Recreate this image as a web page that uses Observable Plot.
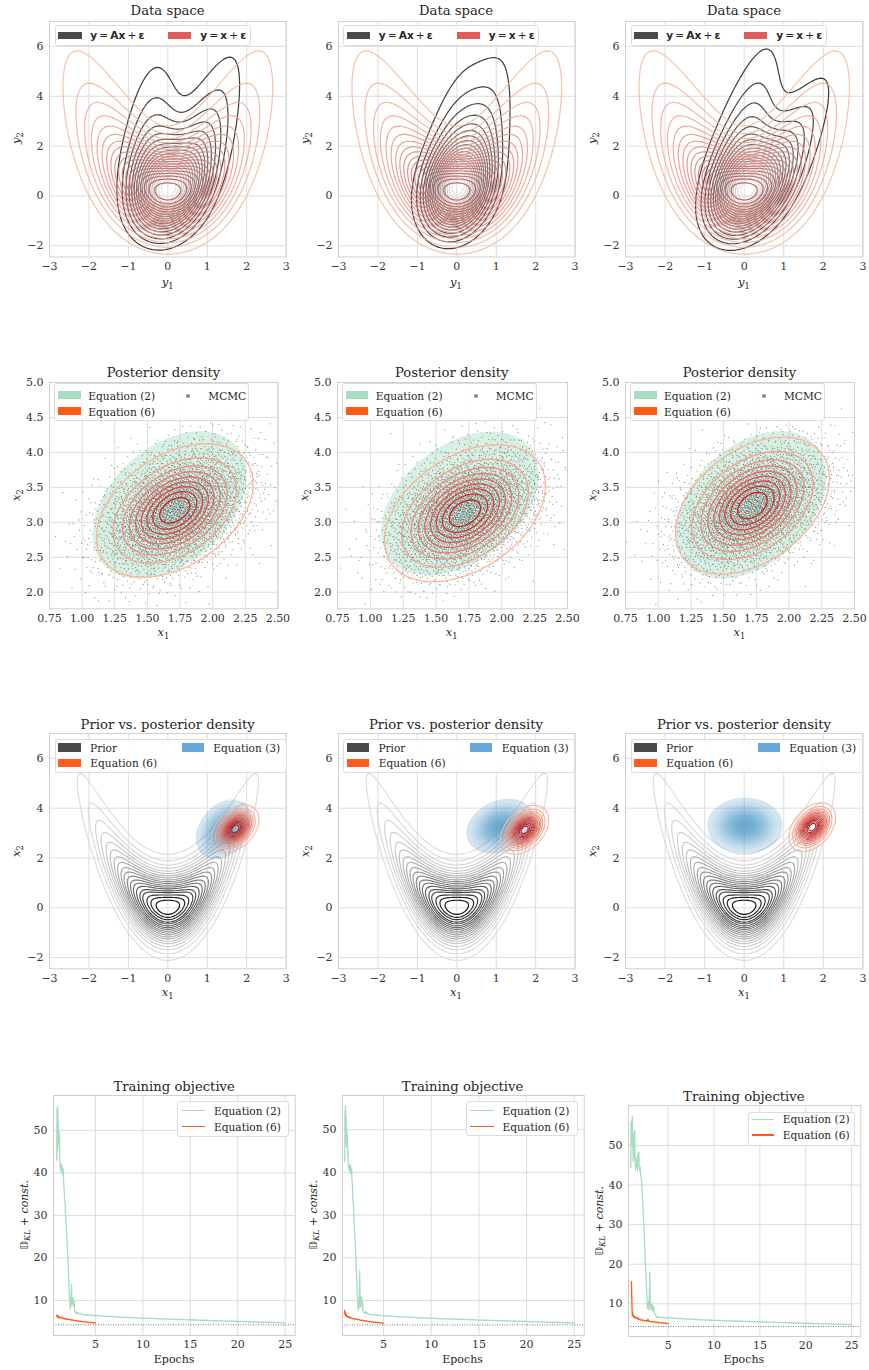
<!DOCTYPE html>
<html>
<head>
<meta charset="utf-8">
<script src="https://cdn.jsdelivr.net/npm/d3@7"></script>
<script src="https://cdn.jsdelivr.net/npm/@observablehq/plot@0.6"></script>
<style>
  html,body{margin:0;padding:0;background:#fff;}
  #page{position:relative;width:869px;height:1370px;overflow:hidden;font-family:"DejaVu Serif",serif;color:#262626;}
  .t{position:absolute;line-height:1;white-space:nowrap;}
  .box{position:absolute;border:1px solid #dcdcdc;border-radius:3px;background:rgba(255,255,255,0.85);box-sizing:border-box;}
  .sw{position:absolute;}
  sub{font-size:0.72em;vertical-align:-0.3em;line-height:0;}
</style>
</head>
<body>
<div id="page"></div>
<script>
// ======================= DATA =======================
const spaceTicks = [-3, -2, -1, 0, 1, 2, 3];
const spaceYTicks = [-2, 0, 2, 4, 6];
const postXTicks = [0.75, 1.0, 1.25, 1.5, 1.75, 2.0, 2.25, 2.5];
const postYTicks = [2.0, 2.5, 3.0, 3.5, 4.0, 4.5, 5.0];
const epochTicks = [5, 10, 15, 20, 25];
const objTicks = [10, 20, 30, 40, 50];

// banana prior: x1 ~ N(0, sd1), x2 | x1 ~ N(x1^2, sd2)   [sd1, sd2]
const priorModel = [0.95, 0.85];     // prior KDE (row 3)
const dataPrior = [1.04, 0.80];      // prior samples behind the data-space KDEs (row 1)
const priorKdeSd = 0.13;
const redNoiseSd = 0.5;              // y = x + eps (noise + KDE smoothing)
const blackNoiseSd = 0.42;           // y = Ax + eps
// forward operators A = [a11, a12, a21, a22] of the three problems
const forwardA = [[0.41, 0.12, 0.12, 0.96], [0.20, 0.12, 0.20, 0.96], [0.30, 0.23, -0.30, 0.96]];
// Gaussian fits [mu1, mu2, sd1, sd2, rho]
const eq6Fit = [[1.71, 3.17, 0.245, 0.39, 0.40], [1.72, 3.13, 0.25, 0.40, 0.40], [1.72, 3.24, 0.24, 0.40, 0.40]];
const eq2Fit = [[1.67, 3.25, 0.24, 0.43, 0.40], [1.68, 3.27, 0.245, 0.42, 0.40], [1.71, 3.25, 0.235, 0.43, 0.38]];
const eq3Fit = [[1.42, 3.15, 0.29, 0.49, 0.30], [1.10, 3.28, 0.35, 0.45, 0.25], [0.02, 3.30, 0.39, 0.46, 0.0]];
const mcmcFit = [[1.72, 3.17, 0.28, 0.44, 0.36], [1.72, 3.14, 0.28, 0.44, 0.38], [1.72, 3.22, 0.28, 0.44, 0.38]];
const mcmcCount = 3800;
const klOptimum = 4.27;

// training objective, Equation (2): early epochs [epoch, value]
const eq2EarlyA = [[0.92,43],[0.95,55],[0.98,53],[1.0,45],[1.03,55.5],[1.06,48],[1.09,52],[1.12,47],[1.15,50],[1.18,46],[1.21,49],[1.25,43],[1.29,41],[1.33,42],[1.37,40.5],[1.41,41.8],[1.45,40],[1.5,41.5],[1.55,39.5],[1.6,41],[1.65,38],[1.7,36],[1.75,33.5],[1.8,33],[1.85,30],[1.9,28],[1.95,26],[2.0,24],[2.05,22],[2.1,19.5],[2.15,17],[2.2,14],[2.25,11],[2.3,9],[2.33,8],[2.36,10.5],[2.4,8.5],[2.45,12],[2.48,13.8],[2.52,9],[2.56,10.8],[2.6,9.2],[2.65,10.4],[2.7,8.6],[2.75,10],[2.8,7.6],[2.88,7.2],[2.95,6.9],[3.0,7.3],[3.1,7.0],[3.2,7.1],[3.3,6.8],[3.4,7.0],[3.5,6.7]];
const eq2EarlyB = [[0.93,42.5],[0.96,54.5],[0.99,50],[1.02,55.5],[1.05,47],[1.08,53],[1.11,46],[1.14,50.5],[1.17,47.5],[1.2,49],[1.24,44],[1.28,45],[1.32,41],[1.36,42],[1.4,40.5],[1.45,41.5],[1.5,40],[1.55,41.6],[1.6,39.5],[1.65,40.8],[1.7,38],[1.75,36.5],[1.8,33],[1.85,32.5],[1.9,29],[1.95,27],[2.0,25],[2.05,22.5],[2.1,20],[2.15,17],[2.2,14.5],[2.25,11.5],[2.3,9],[2.34,7.8],[2.38,10.5],[2.42,8.2],[2.47,12],[2.5,16.9],[2.54,10],[2.58,8.5],[2.62,11],[2.66,9],[2.7,10.8],[2.75,8.5],[2.8,9.6],[2.85,7.6],[2.92,7.3],[3.0,7.0],[3.1,7.4],[3.2,6.9],[3.3,7.1],[3.4,6.8],[3.5,6.75]];
const eq2EarlyC = [[0.93,44.5],[0.97,56],[1.01,50],[1.05,55.5],[1.1,57.3],[1.15,51],[1.2,46],[1.25,53],[1.3,47],[1.35,53.8],[1.4,46.5],[1.45,44],[1.5,47],[1.55,44.5],[1.6,46.2],[1.65,43.5],[1.7,47.8],[1.75,46],[1.8,48.3],[1.85,45],[1.9,43.7],[1.95,44.5],[2.0,42.5],[2.05,42.4],[2.1,41],[2.15,39],[2.2,37],[2.25,34.5],[2.3,32],[2.35,29.5],[2.4,27],[2.45,24.3],[2.5,21.5],[2.55,19],[2.6,16],[2.65,13.5],[2.7,11],[2.75,9.2],[2.8,8.8],[2.85,10.5],[2.9,8.5],[2.95,12],[3.0,18],[3.04,12],[3.07,9.2],[3.12,8.6],[3.17,10],[3.22,9.5],[3.27,8.2],[3.32,9.6],[3.37,8.3],[3.42,9.2],[3.47,7.8],[3.55,7.5]];
// Equation (2) after epoch 3.75, every quarter epoch
const eq2Tail = [6.60,6.66,6.52,6.58,6.45,6.41,6.47,6.33,6.38,6.24,6.31,6.18,6.22,6.12,6.19,6.05,6.10,5.98,6.06,5.95,5.99,5.88,5.96,5.84,5.90,5.80,5.86,5.75,5.82,5.71,5.77,5.67,5.73,5.63,5.70,5.60,5.65,5.55,5.62,5.51,5.57,5.47,5.54,5.44,5.49,5.40,5.46,5.36,5.42,5.33,5.39,5.29,5.35,5.26,5.31,5.22,5.28,5.19,5.24,5.15,5.21,5.12,5.17,5.08,5.14,5.05,5.10,5.02,5.07,4.98,5.03,4.95,5.00,4.92,4.97,4.88,4.93,4.85,4.90,4.82,4.86,4.78,4.83,4.75,4.80,4.72];
const eq2TailEpochs = d3.range(eq2Tail.length).map(i => 3.75 + 0.25 * i);
// training objective, Equation (6)
const eq6CurveA = [[0.92,6.6],[0.97,6.1],[1.0,6.4],[1.05,6.0],[1.1,6.3],[1.2,5.9],[1.3,6.1],[1.4,5.8],[1.5,5.95],[1.6,5.7],[1.7,5.85],[1.8,5.6],[1.9,5.75],[2.0,5.5],[2.2,5.6],[2.4,5.4],[2.6,5.45],[2.8,5.25],[3.0,5.3],[3.2,5.1],[3.4,5.15],[3.6,5.0],[3.8,5.02],[4.0,4.9],[4.2,4.92],[4.4,4.8],[4.6,4.84],[4.8,4.72],[5.0,4.75]];
const eq6CurveB = [[0.92,7.7],[0.95,6.8],[0.98,7.3],[1.02,6.5],[1.06,6.8],[1.1,6.2],[1.2,6.4],[1.3,6.0],[1.4,6.2],[1.5,5.85],[1.6,6.0],[1.8,5.7],[2.0,5.75],[2.2,5.5],[2.4,5.55],[2.6,5.35],[2.8,5.4],[3.0,5.2],[3.2,5.25],[3.4,5.05],[3.6,5.1],[3.8,4.95],[4.0,4.98],[4.2,4.85],[4.4,4.88],[4.6,4.75],[4.8,4.78],[5.0,4.65]];
const eq6CurveC = [[1.0,15.6],[1.03,12],[1.06,9.5],[1.09,7.2],[1.12,7.8],[1.16,6.9],[1.2,7.1],[1.25,6.6],[1.3,6.9],[1.4,6.4],[1.5,6.6],[1.6,6.2],[1.7,6.4],[1.8,6.0],[1.9,6.15],[2.0,5.85],[2.2,5.95],[2.4,5.7],[2.6,5.8],[2.7,5.6],[2.8,6.1],[2.9,5.6],[3.0,5.6],[3.2,5.45],[3.4,5.5],[3.6,5.3],[3.8,5.35],[4.0,5.2],[4.2,5.25],[4.4,5.1],[4.6,5.15],[4.8,5.0],[5.0,5.05]];

// ======================= LAYOUT =======================
const page = document.getElementById("page");
const row1 = [{l:49.3,t:20.5,r:286,b:256},{l:337.7,t:20.5,r:574.3,b:256},{l:625.3,t:20.5,r:862.7,b:256}];
const row2 = [{l:49.3,t:382,r:277.7,b:608.3},{l:336.7,t:382,r:566.7,b:608.3},{l:625,t:382,r:854,b:608.3}];
const row3 = [{l:49.3,t:733,r:286,b:968.3},{l:337.7,t:733,r:574.3,b:968.3},{l:625.3,t:733,r:862.7,b:968.3}];
const row4 = [{l:53.3,t:1095,r:295,b:1335},{l:341.7,t:1095,r:583.5,b:1335},{l:627.7,t:1105,r:860,b:1336}];
const row4X = [[0.58,26.05],[0.70,26.05],[0.68,26.0]];
const row4Y = [[1.76,58.2],[1.8,58.0],[1.74,60.1]];

function text(html, x, y, o = {}) {
  const d = document.createElement("div");
  d.className = "t"; d.innerHTML = html;
  const ax = o.anchor === "start" ? 0 : o.anchor === "end" ? -100 : -50;
  d.style.left = x + "px"; d.style.top = y + "px";
  d.style.fontSize = (o.size || 11) + "px";
  if (o.family) d.style.fontFamily = o.family;
  if (o.color) d.style.color = o.color;
  d.style.transform = `translate(${ax}%,-50%)` + (o.rotate ? ` rotate(${o.rotate}deg)` : "");
  page.appendChild(d); return d;
}
function rect(x, y, w, h, color, extra = "") {
  const d = document.createElement("div");
  d.className = "sw";
  d.style.cssText = `left:${x}px;top:${y}px;width:${w}px;height:${h}px;background:${color};${extra}`;
  page.appendChild(d); return d;
}
function box(x, y, w, h) {
  const d = document.createElement("div");
  d.className = "box";
  d.style.cssText = `left:${x}px;top:${y}px;width:${w}px;height:${h}px;`;
  page.appendChild(d); return d;
}

function panel(f, o) {
  const mL = 44, mR = 6, mT = 6, mB = 24;
  const w = f.r - f.l, h = f.b - f.t;
  const svg = Plot.plot({
    width: w + mL + mR, height: h + mT + mB,
    marginLeft: mL, marginRight: mR, marginTop: mT, marginBottom: mB,
    style: {background: "transparent", fontFamily: "'DejaVu Serif', serif", fontSize: "11px", color: "#333", overflow: "visible"},
    x: {domain: o.xd, label: null},
    y: {domain: o.yd, label: null},
    marks: [
      Plot.gridX(o.xt, {stroke: "#dddddd", strokeOpacity: 1, strokeWidth: 1}),
      Plot.gridY(o.yt, {stroke: "#dddddd", strokeOpacity: 1, strokeWidth: 1}),
      ...o.marks,
      Plot.frame({stroke: "#cfcfcf"}),
      Plot.axisX(o.xt, {tickSize: 0, tickPadding: 5, tickFormat: o.xf, label: null, fontSize: 11}),
      Plot.axisY(o.yt, {tickSize: 0, tickPadding: 6, tickFormat: o.yf, label: null, fontSize: 11})
    ]
  });
  svg.style.position = "absolute";
  svg.style.left = (f.l - mL) + "px";
  svg.style.top = (f.t - mT) + "px";
  page.appendChild(svg);
}

// ======================= DENSITIES =======================
function makeGrid(x0, x1, y0, y1, step) {
  const nx = Math.round((x1 - x0) / step), ny = Math.round((y1 - y0) / step);
  return {x0, x1, y0, y1, nx, ny, dx: (x1 - x0) / nx, dy: (y1 - y0) / ny, v: new Float64Array(nx * ny)};
}
function splat(g, px, py, w) {
  const fx = (px - g.x0) / g.dx - 0.5, fy = (py - g.y0) / g.dy - 0.5;
  const ix = Math.floor(fx), iy = Math.floor(fy);
  if (ix < 0 || iy < 0 || ix >= g.nx - 1 || iy >= g.ny - 1) return;
  const tx = fx - ix, ty = fy - iy, k = iy * g.nx + ix;
  g.v[k] += w * (1 - tx) * (1 - ty); g.v[k + 1] += w * tx * (1 - ty);
  g.v[k + g.nx] += w * (1 - tx) * ty; g.v[k + g.nx + 1] += w * tx * ty;
}
function kernel(s) {
  const r = Math.ceil(3 * s), k = []; let sum = 0;
  for (let i = -r; i <= r; i++) { const w = Math.exp(-i * i / (2 * s * s)); k.push(w); sum += w; }
  return {r, k: k.map(w => w / sum)};
}
function blur(g, sd) {
  const {nx, ny} = g, kx = kernel(sd / g.dx), ky = kernel(sd / g.dy);
  const tmp = new Float64Array(nx * ny);
  for (let j = 0; j < ny; j++) for (let i = 0; i < nx; i++) {
    let s = 0;
    for (let t = -kx.r; t <= kx.r; t++) { const ii = i + t; if (ii >= 0 && ii < nx) s += g.v[j * nx + ii] * kx.k[t + kx.r]; }
    tmp[j * nx + i] = s;
  }
  for (let j = 0; j < ny; j++) for (let i = 0; i < nx; i++) {
    let s = 0;
    for (let t = -ky.r; t <= ky.r; t++) { const jj = j + t; if (jj >= 0 && jj < ny) s += tmp[jj * nx + i] * ky.k[t + ky.r]; }
    g.v[j * nx + i] = s;
  }
  return g;
}
// quadrature nodes of a banana prior
function bananaNodes(model) {
  const nodes = [];
  for (let a = -130; a <= 130; a++) for (let b = -66; b <= 66; b++) {
    const z1 = a * 0.03, z2 = b * 0.06, w = Math.exp(-0.5 * (z1 * z1 + z2 * z2));
    if (w < 1e-5) continue;
    const x1 = model[0] * z1;
    nodes.push([x1, x1 * x1 + model[1] * z2, w]);
  }
  return nodes;
}
function pushforward(nodes, A, sd) {
  const g = makeGrid(-3.6, 3.6, -3.3, 8.7, 0.06);
  for (const [x1, x2, w] of nodes) splat(g, A[0] * x1 + A[1] * x2, A[2] * x1 + A[3] * x2, w);
  return blur(g, sd);
}
function gaussGrid(fit, x0, x1, y0, y1, step) {
  const [m1, m2, s1, s2, r] = fit, g = makeGrid(x0, x1, y0, y1, step);
  for (let j = 0; j < g.ny; j++) for (let i = 0; i < g.nx; i++) {
    const z1 = (x0 + (i + 0.5) * g.dx - m1) / s1, z2 = (y0 + (j + 0.5) * g.dy - m2) / s2;
    g.v[j * g.nx + i] = Math.exp(-0.5 * (z1 * z1 - 2 * r * z1 * z2 + z2 * z2) / (1 - r * r));
  }
  return g;
}
function isoLevels(g, n) {
  const s = Float64Array.from(g.v).sort();
  let total = 0; for (const v of s) total += v;
  const targets = d3.range(n - 1).map(k => (0.05 + k * 0.95 / (n - 1)) * total);
  const out = []; let cum = 0, k = 0;
  for (let i = 0; i < s.length && k < targets.length; i++) {
    cum += s[i];
    while (k < targets.length && cum >= targets[k]) { out.push(s[i]); k++; }
  }
  return out;
}
const ramp = (a, b, n, gamma = 1) => d3.range(n).map(i => d3.interpolateRgb(a, b)(n <= 1 ? 0 : Math.pow(i / (n - 1), gamma)));
function lines(g, levels, colors, sw = 1.1, op = 1) {
  const data = Array.from(g.v);
  return levels.map((t, i) => Plot.contour(data, {width: g.nx, height: g.ny, x1: g.x0, y1: g.y0, x2: g.x1, y2: g.y1,
    value: Plot.identity, thresholds: [t], stroke: colors[i], strokeWidth: sw, strokeOpacity: op, fill: "none", clip: true}));
}
function fills(g, levels, colors, ops) {
  const data = Array.from(g.v);
  return levels.map((t, i) => Plot.contour(data, {width: g.nx, height: g.ny, x1: g.x0, y1: g.y0, x2: g.x1, y2: g.y1,
    value: Plot.identity, thresholds: [t], fill: colors[i], fillOpacity: ops[i], stroke: "none", clip: true}));
}
function halton(i, b) { let f = 1, r = 0; while (i > 0) { f /= b; r += f * (i % b); i = Math.floor(i / b); } return r; }
function invNorm(p) {
  const q = p < 0.5 ? p : 1 - p, t = Math.sqrt(-2 * Math.log(q));
  const z = t - (2.515517 + 0.802853 * t + 0.010328 * t * t) / (1 + 1.432788 * t + 0.189269 * t * t + 0.001308 * t * t * t);
  return p < 0.5 ? -z : z;
}
function mcmcDraws(fit, n, offset) {
  const [m1, m2, s1, s2, r] = fit, pts = [];
  for (let i = 1; i <= n; i++) {
    const z1 = invNorm(halton(i + offset, 2)), z2 = invNorm(halton(i + offset, 3));
    pts.push([m1 + s1 * z1, m2 + s2 * (r * z1 + Math.sqrt(1 - r * r) * z2)]);
  }
  return pts;
}

const fmt2 = d3.format(".2f"), fmt1 = d3.format(".1f");

// ======================= ROW 1: Data space =======================
const dataNodes = bananaNodes(dataPrior);
const redGrid = pushforward(dataNodes, [1, 0, 0, 1], redNoiseSd);
const redLv = isoLevels(redGrid, 20);
const redCols = ramp("#f8b59f", "#bf4646", redLv.length);
row1.forEach((f, k) => {
  const g = pushforward(dataNodes, forwardA[k], blackNoiseSd);
  const lv = isoLevels(g, 20);
  panel(f, {xd: [-3, 3], yd: [-2.45, 7.0], xt: spaceTicks, yt: spaceYTicks,
    marks: [...lines(g, lv, ramp("#3a3a3a", "#e2e2e2", lv.length), 1.2), ...lines(redGrid, redLv, redCols, 1.2, 0.85)]});
});

// ======================= ROW 2: Posterior density =======================
row2.forEach((f, k) => {
  const g2 = gaussGrid(eq2Fit[k], 0.6, 2.7, 1.5, 5.1, 0.015);
  const g6 = gaussGrid(eq6Fit[k], 0.6, 2.7, 1.5, 5.1, 0.015);
  const lv2 = isoLevels(g2, 10).slice(0, 1);
  const lv6 = isoLevels(g6, 10);
  const pts = mcmcDraws(mcmcFit[k], mcmcCount, 7 + 5000 * k);
  panel(f, {xd: [0.75, 2.5], yd: [1.763, 5.0], xt: postXTicks, yt: postYTicks, xf: fmt2, yf: fmt1,
    marks: [
      ...fills(g2, lv2, ["#a8dcc0"], [0.45]),
      Plot.dot(pts, {x: d => d[0], y: d => d[1], r: 0.6, fill: "#1a1a1a", fillOpacity: 0.5, stroke: "none", clip: true}),
      ...lines(g6, lv6, ramp("#fbb39b", "#d7191c", lv6.length), 1.3)
    ]});
});

// ======================= ROW 3: Prior vs posterior =======================
const priorGrid = pushforward(bananaNodes(priorModel), [1, 0, 0, 1], priorKdeSd);
const priorLv = isoLevels(priorGrid, 20);
const priorCols = ramp("#dcdcdc", "#111111", priorLv.length, 1.5);
row3.forEach((f, k) => {
  const g3 = gaussGrid(eq3Fit[k], -1.6, 3.0, 1.0, 5.6, 0.03);
  const g6 = gaussGrid(eq6Fit[k], 0.6, 2.8, 1.6, 4.8, 0.02);
  const lv3 = isoLevels(g3, 15), lv6 = isoLevels(g6, 15);
  const blueOps = lv3.map((_, i) => i === 0 ? 0.24 : 0.085);
  panel(f, {xd: [-3, 3], yd: [-2.45, 7.0], xt: spaceTicks, yt: spaceYTicks,
    marks: [
      ...lines(priorGrid, priorLv, priorCols, 1.15),
      ...fills(g3, lv3, lv3.map(() => "#4a93c9"), blueOps),
      ...lines(g6, lv6, ramp("#fcb49c", "#b0141b", lv6.length), 1.1)
    ]});
});

// ======================= ROW 4: Training objective =======================
const eq2Tails = eq2TailEpochs.map((e, i) => [e, eq2Tail[i]]);
const eq2Curves = [eq2EarlyA.concat(eq2Tails), eq2EarlyB.concat(eq2Tails), eq2EarlyC.concat(eq2Tails)];
const eq6Curves = [eq6CurveA, eq6CurveB, eq6CurveC];
row4.forEach((f, k) => {
  panel(f, {xd: row4X[k], yd: row4Y[k], xt: epochTicks, yt: objTicks,
    marks: [
      Plot.ruleY([klOptimum], {stroke: "#666", strokeWidth: 0.9, strokeDasharray: "1,1.5"}),
      Plot.line(eq2Curves[k], {x: d => d[0], y: d => d[1], stroke: "#a8dcc0", strokeWidth: 1.3}),
      Plot.line(eq6Curves[k], {x: d => d[0], y: d => d[1], stroke: "#ff5b14", strokeWidth: 1.3})
    ]});
});

// ======================= TEXT, LEGENDS =======================
const TS = 13.2;
const yi = (s, n) => `<i>${s}</i><sub>${n}</sub>`;
row1.forEach(f => {
  const cx = (f.l + f.r) / 2, cy = (f.t + f.b) / 2;
  text("Data space", cx, 11, {size: TS});
  text(yi("y", 1), cx, 283.3, {size: 11.5});
  text(yi("y", 2), f.l - 32, cy, {size: 11.5, rotate: -90});
  box(f.l + 5.7, f.t + 4.5, 196, 20.5);
  rect(f.l + 9, f.t + 11, 23.5, 7.8, "#4a4a4a");
  text("<b>y</b>&#8201;=&#8201;<b>Ax</b>&#8201;+&#8201;<b>ε</b>", f.l + 41, f.t + 14.8, {size: 10.6, anchor: "start", family: "'DejaVu Sans', sans-serif"});
  rect(f.l + 119, f.t + 11, 23, 7.8, "#e05c5c");
  text("<b>y</b>&#8201;=&#8201;<b>x</b>&#8201;+&#8201;<b>ε</b>", f.l + 151, f.t + 14.8, {size: 10.6, anchor: "start", family: "'DejaVu Sans', sans-serif"});
});
row2.forEach(f => {
  const cx = (f.l + f.r) / 2, cy = (f.t + f.b) / 2;
  text("Posterior density", cx, 373.3, {size: TS});
  text(yi("x", 1), cx, 633.3, {size: 11.5});
  text(yi("x", 2), f.l - 32, cy, {size: 11.5, rotate: -90});
  box(f.l + 5, f.t + 0.7, 195, 38.5);
  rect(f.l + 9, f.t + 9, 22.7, 8.3, "#a8dcc0");
  text("Equation (2)", f.l + 39, f.t + 13.7, {size: 10.6, anchor: "start"});
  rect(f.l + 9, f.t + 24.7, 22.7, 8.3, "#ff5a14");
  text("Equation (6)", f.l + 39, f.t + 29.7, {size: 10.6, anchor: "start"});
  rect(f.l + 137, f.t + 11.7, 4, 4, "#8a8a8a", "border-radius:50%;");
  text("MCMC", f.l + 159, f.t + 13.7, {size: 10.6, anchor: "start"});
});
row3.forEach(f => {
  const cx = (f.l + f.r) / 2, cy = (f.t + f.b) / 2;
  text("Prior vs. posterior density", cx, 725, {size: TS});
  text(yi("x", 1), cx, 993.3, {size: 11.5});
  text(yi("x", 2), f.l - 32, cy, {size: 11.5, rotate: -90});
  box(f.l + 5.7, f.t + 6.3, 231.5, 34);
  rect(f.l + 9, f.t + 10.3, 22.7, 8.4, "#4a4a4a");
  text("Prior", f.l + 40.7, f.t + 14.7, {size: 10.6, anchor: "start"});
  rect(f.l + 9, f.t + 26.3, 22.7, 8, "#ff5a1f");
  text("Equation (6)", f.l + 41, f.t + 30.3, {size: 10.6, anchor: "start"});
  rect(f.l + 132.4, f.t + 10.3, 22.3, 8.4, "#66aadd");
  text("Equation (3)", f.l + 164, f.t + 14.7, {size: 10.6, anchor: "start"});
});
const leg4 = [{bx: 117.7, by: 6, bw: 112, bh: 35.7, s0: 113.3, s1: 90, tx: 81, l1: 15.7, l2: 31.7},
              {bx: 117.8, by: 5.7, bw: 112, bh: 35.7, s0: 113.5, s1: 90, tx: 81, l1: 15.7, l2: 31.7},
              {bx: 112.3, by: 7.3, bw: 107.3, bh: 33.4, s0: 108.3, s1: 86, tx: 77.3, l1: 14.3, l2: 30}];
row4.forEach((f, k) => {
  const cx = (f.l + f.r) / 2, cy = (f.t + f.b) / 2, L = leg4[k];
  text("Training objective", cx, k === 2 ? 1096.7 : 1086.7, {size: TS});
  text("Epochs", cx, 1359.3, {size: 11});
  text("<span style=\"font-family:'DejaVu Sans',sans-serif;color:#555\">𝔻</span><sub><i>KL</i></sub> + <i>const.</i>", f.l - 29, cy, {size: 11, rotate: -90});
  box(f.r - L.bx, f.t + L.by, L.bw, L.bh);
  rect(f.r - L.s0, f.t + L.l1 - 0.8, L.s0 - L.s1, 1.6, "#a8dcc0");
  text("Equation (2)", f.r - L.tx, f.t + L.l1, {size: 10.6, anchor: "start"});
  rect(f.r - L.s0, f.t + L.l2 - 0.8, L.s0 - L.s1, 1.6, "#ff5b14");
  text("Equation (6)", f.r - L.tx, f.t + L.l2, {size: 10.6, anchor: "start"});
});
</script>
</body>
</html>
